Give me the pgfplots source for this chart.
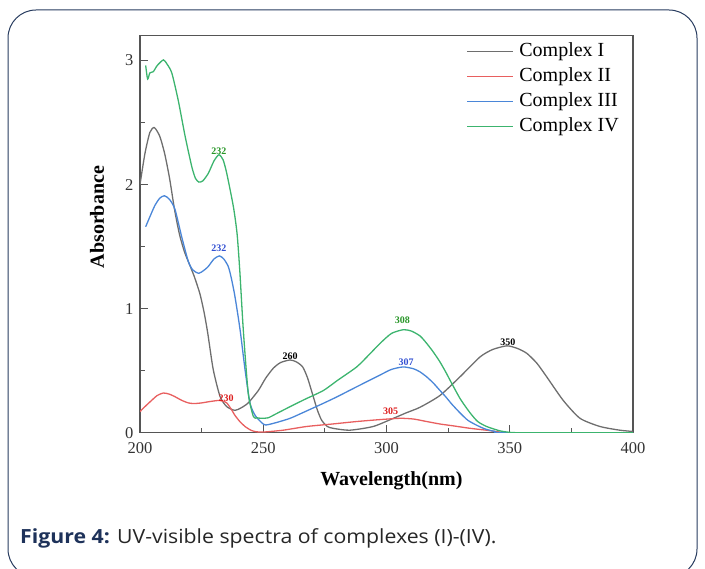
\documentclass[border=0pt]{standalone}
\usepackage{fontspec}
\setmainfont{Liberation Serif}
\newfontfamily\capfont{Open Sans}
\usepackage{pgfplots}
\pgfplotsset{compat=1.18}

\definecolor{cI}{RGB}{110,110,110}
\definecolor{cII}{RGB}{232,95,95}
\definecolor{cIII}{RGB}{74,134,216}
\definecolor{cIV}{RGB}{60,180,110}
\definecolor{lIV}{RGB}{40,150,40}
\definecolor{lIII}{RGB}{50,80,210}
\definecolor{lII}{RGB}{220,30,30}
\definecolor{frame}{RGB}{40,60,95}
\definecolor{capblue}{RGB}{30,50,90}
\definecolor{axisgray}{RGB}{85,85,85}

\begin{document}
\begin{tikzpicture}[x=1pt,y=1pt]
\path[use as bounding box] (0,0) rectangle (705,569);
\begin{scope}
  \clip (0,0) rectangle (705,569);
  \draw[frame, line width=1pt, rounded corners=28pt] (8,-8) rectangle (697,559);
\end{scope}

\begin{axis}[
    at={(140pt,136.3pt)}, anchor=south west,
    scale only axis,
    width=493pt, height=397pt,
    xmin=200, xmax=400,
    ymin=0, ymax=3.2,
    xtick={200,250,300,350,400},
    ytick={0,1,2,3},
    minor x tick num=1,
    minor y tick num=1,
    tick align=inside,
    xtick pos=bottom, ytick pos=left,
    major tick length=8pt, minor tick length=5pt,
    axis line style={axisgray, line width=1.4pt},
    every tick/.style={axisgray, line width=1.2pt},
    tick label style={font=\fontsize{16.5}{20}\selectfont, text=black!80},
    xticklabel style={yshift=-6pt},
    yticklabel style={xshift=-3pt},
    /pgf/number format/assume math mode=true,
    xlabel={\textbf{Wavelength(nm)}},
    ylabel={\textbf{Absorbance}},
    every axis x label/.style={at={(axis description cs:0.51,-0.122)}, anchor=center, font=\fontsize{20}{24}\selectfont},
    every axis y label/.style={at={(axis description cs:-0.087,0.543)}, anchor=center, rotate=90, font=\fontsize{20}{24}\selectfont},
    legend cell align=left,
    legend style={draw=none, fill=none, at={(axis description cs:0.662,0.988)}, anchor=north west,
        font=\fontsize{20}{24}\selectfont, inner sep=0pt, row sep=3pt,
        nodes={inner sep=1.5pt, text height=14pt, text depth=5pt}},
    legend image code/.code={\draw[#1] (0pt,0pt) -- (46pt,0pt);},
    every axis plot/.append style={line width=1.3pt, smooth, tension=0.4, mark=none},
]
% Complex I
\addplot[cI] coordinates {
(200,2.00) (202,2.25) (204,2.42) (205.8,2.46) (208,2.39) (210,2.25) (212,2.05)
(214,1.80) (216,1.60) (218,1.46) (220,1.36) (222,1.26) (224.3,1.12) (226,0.97) (227.5,0.80)
(229.7,0.51) (232.5,0.29) (235.2,0.21) (238.5,0.18) (241,0.20) (243.9,0.24)
(248,0.34) (251,0.44) (254.1,0.52) (257,0.565) (260.9,0.586) (263.5,0.57) (266,0.53)
(268,0.44) (270.3,0.29) (272,0.18) (273.7,0.10) (276,0.05) (278.4,0.035) (285,0.02)
(294.6,0.05) (302.8,0.116) (308,0.16) (313.6,0.205) (321.7,0.30) (329.8,0.45)
(337.9,0.61) (343,0.67) (348.8,0.70) (353,0.68) (356.9,0.64) (361,0.56) (365,0.45)
(371.7,0.26) (378.5,0.116) (386.6,0.05) (394.7,0.02) (400,0.01)};
% Complex II
\addplot[cII] coordinates {
(200,0.17) (202,0.21) (204.7,0.26) (207,0.30) (209.5,0.32) (212,0.31) (214.2,0.29)
(217,0.26) (219.6,0.24) (222,0.235) (225,0.24) (228,0.25) (231.8,0.26) (233.5,0.255)
(235.2,0.24) (237,0.19) (238.5,0.14) (240.5,0.09) (242.6,0.05) (245,0.02)
(247,0.008) (250,0.005) (258,0.02) (267.6,0.05) (278,0.07) (287.9,0.09) (297,0.105)
(305.5,0.116) (311,0.11) (316.3,0.09) (321.7,0.07) (327.1,0.055) (334,0.035)
(340.6,0.02) (346,0.005) (350,0) (400,0)};
% Complex III
\addplot[cIII] coordinates {
(202.3,1.66) (204,1.74) (206,1.83) (208,1.89) (209.9,1.91) (212,1.88) (214.2,1.80)
(216.9,1.58) (219.6,1.38) (221.5,1.31) (223.9,1.285) (226,1.31) (227.7,1.34)
(230,1.40) (232.2,1.425) (234,1.40) (235.8,1.34) (237,1.25) (238.5,1.10)
(240.6,0.83) (242.6,0.51) (244.6,0.24) (246.7,0.14) (249.4,0.08) (251,0.062)
(255,0.08) (260.9,0.116) (267,0.17) (274.4,0.237) (280,0.29) (287.9,0.37)
(297.4,0.465) (302,0.51) (306.8,0.53) (311,0.515) (313.6,0.49) (316.3,0.45)
(319,0.40) (321.7,0.34) (324,0.29) (326.5,0.23) (329.8,0.16) (333,0.10) (336.6,0.06)
(340,0.03) (344,0.01) (348,0) (400,0)};
% Complex IV
\addplot[cIV] coordinates {
(202.3,2.96) (203.1,2.85) (204,2.90) (205.4,2.91) (207,2.96) (209.5,3.005) (211,2.97)
(212.9,2.90) (215.5,2.68) (218.3,2.39) (221,2.145) (222.5,2.05) (223.9,2.02)
(225.5,2.03) (227.7,2.09) (230,2.19) (232,2.24) (233.7,2.20) (235.2,2.09)
(237.9,1.82) (239.4,1.60) (240.5,1.30) (241.9,0.83) (243.9,0.32) (246,0.13)
(247.5,0.12) (249.4,0.116) (252,0.12) (255,0.15) (260.9,0.21) (267,0.27)
(274.4,0.34) (280,0.42) (287.9,0.53) (293,0.63) (297.4,0.72) (302,0.80) (306.8,0.83)
(310,0.82) (313.6,0.78) (316.3,0.72) (319,0.65) (321.7,0.57) (324,0.49) (326.4,0.40)
(330,0.27) (333.9,0.16) (337,0.09) (340.6,0.05) (346,0.015) (350,0.003) (355,0) (400,0)};
\legend{\hspace{4pt}Complex I, \hspace{4pt}Complex II, \hspace{4pt}Complex III, \hspace{4pt}Complex IV}

\begin{scope}[every node/.style={font=\bfseries\fontsize{10}{12}\selectfont, inner sep=0pt}]
\node[lIV] at (axis cs:232.0,2.265) {232};
\node[lIII] at (axis cs:232.0,1.49) {232};
\node[lII] at (axis cs:234.9,0.28) {230};
\node[black] at (axis cs:260.9,0.62) {260};
\node[lIV] at (axis cs:306.4,0.91) {308};
\node[lIII] at (axis cs:308.0,0.57) {307};
\node[lII] at (axis cs:301.7,0.175) {305};
\node[black] at (axis cs:349.2,0.73) {350};
\end{scope}
\end{axis}

\node[anchor=base west, inner sep=0pt, xscale=1.09, font=\capfont\fontsize{19.5}{22}\selectfont, text=black!85]
  at (20,25) {\textcolor{capblue}{\bfseries Figure 4:} UV-visible spectra of complexes (I)-(IV).};
\end{tikzpicture}
\end{document}
